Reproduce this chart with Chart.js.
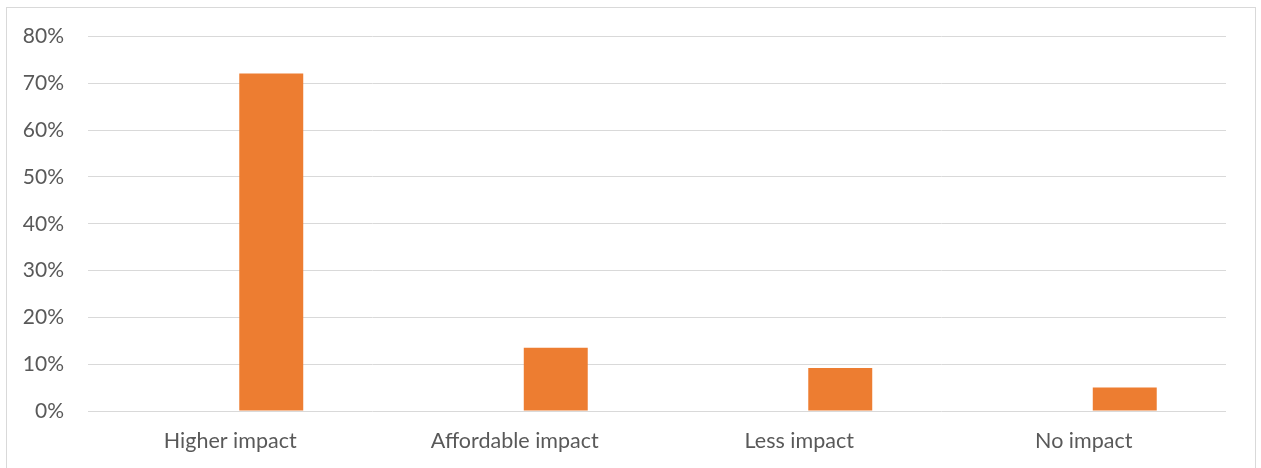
<!DOCTYPE html>
<html>
<head>
<meta charset="utf-8">
<script src="https://cdn.jsdelivr.net/npm/chart.js"></script>
<style>
    body { margin: 0; background: #fff; }
    #frame { position: absolute; left: 6px; top: 7px; width: 1248px; height: 470px; border: 1px solid #d9d9d9; }
    #wrap { position: absolute; left: 0; top: 0; width: 1261px; height: 468px; }
</style>
</head>
<body>
<div id="frame"></div>
<div id="wrap"><canvas id="myChart" width="1261" height="468"></canvas></div>
<script>
const categories = ['Higher impact', 'Affordable impact', 'Less impact', 'No impact'];
const blankSeries = [null, null, null, null];
const impactValues = [72.1, 13.5, 9.2, 5.0];
const yTicks = [0, 10, 20, 30, 40, 50, 60, 70, 80];

const ctx = document.getElementById('myChart').getContext('2d');
const myChart = new Chart(ctx, {
    type: 'bar',
    data: {
        labels: categories,
        datasets: [
            { label: '', data: blankSeries, backgroundColor: 'rgba(0,0,0,0)' },
            { label: 'Impact', data: impactValues, backgroundColor: '#ED7D31', borderWidth: 0 },
        ],
    },
    options: {
        responsive: false,
        animation: false,
        categoryPercentage: 0.5765,
        barPercentage: 0.78,
        layout: { padding: { top: 36, right: 35, left: 0, bottom: 0 } },
        plugins: { legend: { display: false }, tooltip: { enabled: false } },
        scales: {
            x: {
                grid: { display: false, drawTicks: false },
                border: { display: false },
                ticks: { color: '#595959', font: { family: 'Lato', size: 21.5 }, padding: 17, maxRotation: 0 },
                afterFit: (scale) => { scale.height = 57; },
            },
            y: {
                min: 0,
                max: 80,
                afterBuildTicks: (scale) => { scale.ticks = yTicks.map(v => ({ value: v })); },
                grid: { color: '#d9d9d9', lineWidth: 1, drawTicks: false },
                border: { display: false },
                ticks: { color: '#595959', font: { family: 'Lato', size: 21 }, padding: 24, callback: (v) => v + '%' },
                afterFit: (scale) => { scale.width = 88; },
            },
        },
    },
});
</script>
</body>
</html>
